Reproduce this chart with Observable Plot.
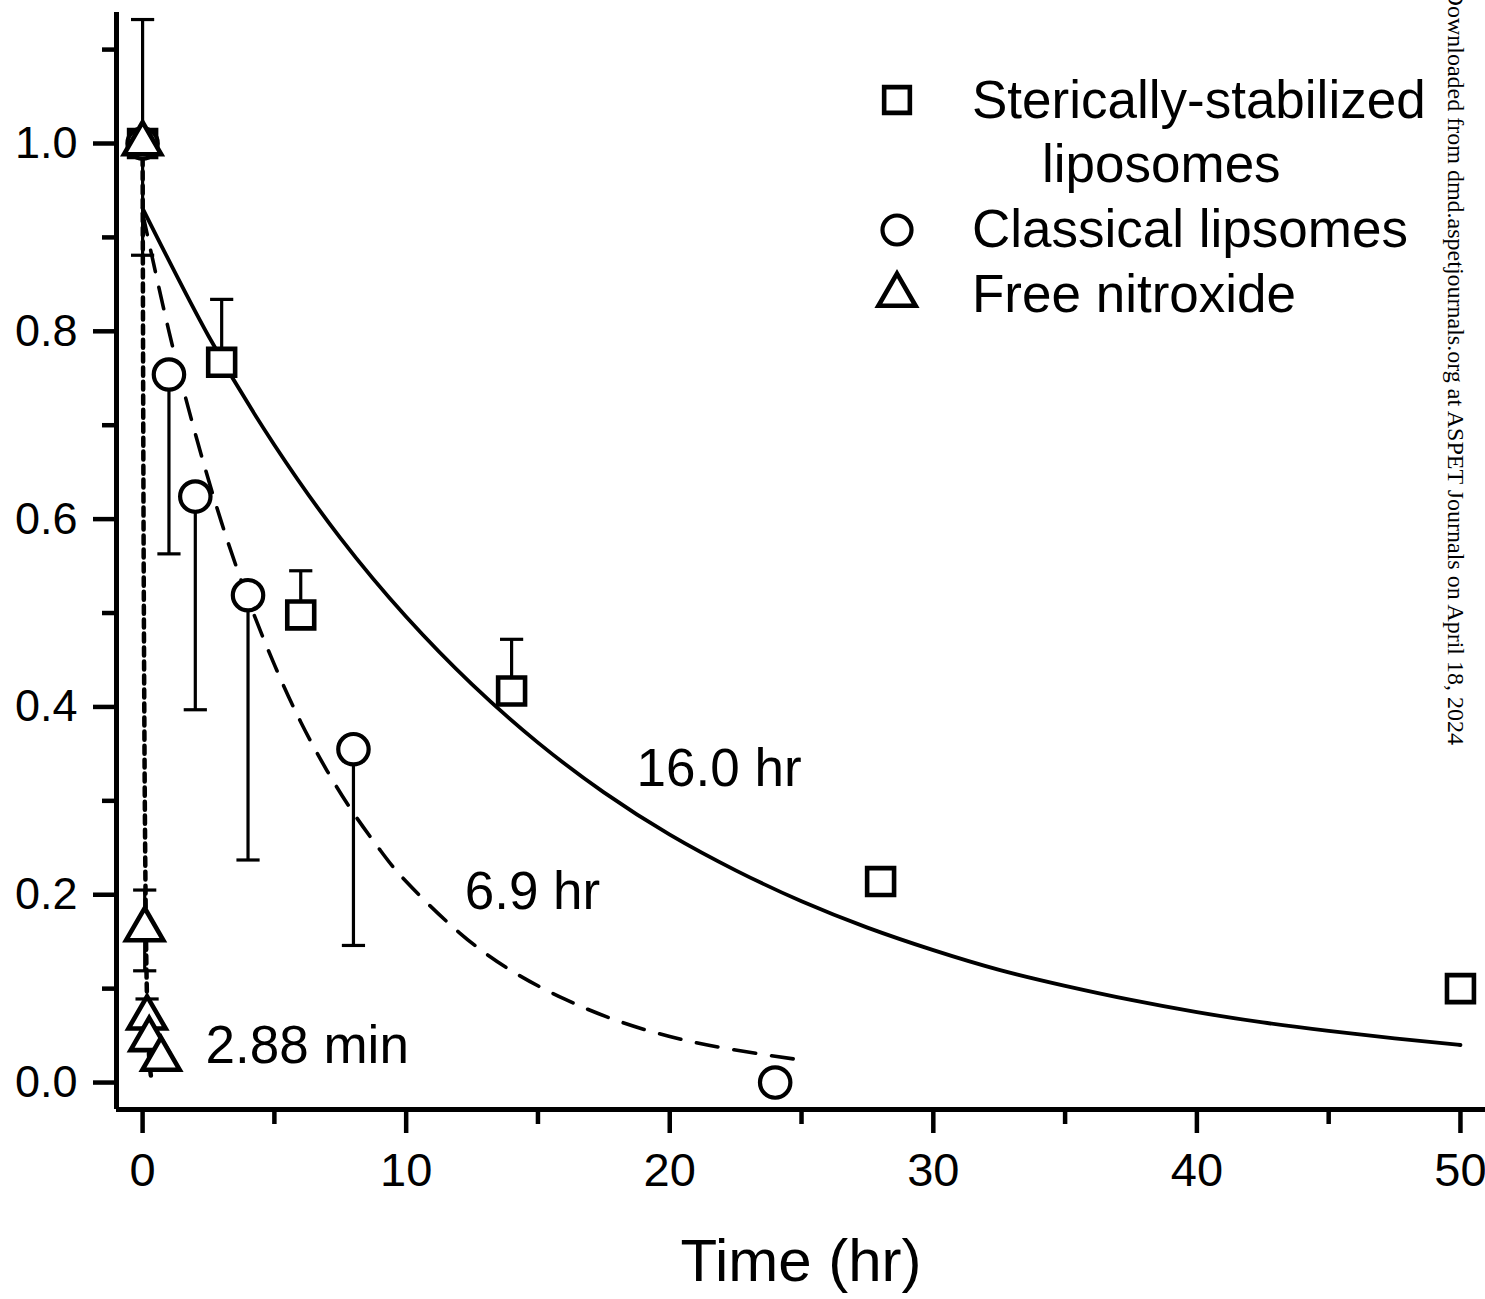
<!DOCTYPE html>
<html>
<head>
<meta charset="utf-8">
<script src="https://cdn.jsdelivr.net/npm/d3@7"></script>
<script src="https://cdn.jsdelivr.net/npm/@observablehq/plot@0.6"></script>
<style>
  body { margin: 0; background: #fff; }
  #chart { position: relative; width: 1485px; height: 1299px; }
</style>
</head>
<body>
<div id="chart"></div>
<script>
// ---- Data ----
const seriesNames = ["Sterically-stabilized liposomes", "Classical lipsomes", "Free nitroxide"];

const sterTime   = [0, 3, 6, 14, 28, 50];
const sterValue  = [1.0, 0.767, 0.498, 0.417, 0.214, 0.100];
const sterErrUp  = [0.132, 0.067, 0.047, 0.055, 0, 0];

const clasTime    = [0, 1, 2, 4, 8, 24];
const clasValue   = [1.0, 0.754, 0.624, 0.519, 0.355, 0.0];
const clasErrDown = [0.119, 0.191, 0.227, 0.282, 0.209, 0];

const freeTime    = [0, 0.08, 0.17, 0.25, 0.7];
const freeValue   = [1.0, 0.163, 0.069, 0.046, 0.025];
const freeErrUp   = [0, 0.042, 0.02, 0, 0];
const freeErrDown = [0, 0.044, 0, 0, 0];

// fitted curves
const sterFitTime  = [0, 2.5, 5, 7.5, 10, 12.5, 15, 17.5, 20, 22.5, 25, 27.5, 30, 32.5, 35, 37.5, 40, 42.5, 45, 47.5, 50];
const sterFitValue = [0.931, 0.795, 0.679, 0.580, 0.496, 0.424, 0.362, 0.309, 0.264, 0.226, 0.193, 0.165, 0.141, 0.120, 0.103, 0.088, 0.075, 0.064, 0.055, 0.047, 0.040];

const clasFitTime  = [0, 1, 2, 3, 4, 5, 6, 7, 8, 9, 10, 12, 14, 16, 18, 20, 22, 24, 25];
const clasFitValue = [0.926, 0.800, 0.691, 0.596, 0.515, 0.445, 0.384, 0.332, 0.287, 0.248, 0.214, 0.160, 0.119, 0.089, 0.066, 0.049, 0.037, 0.028, 0.024];

const freeFitTime  = [0, 0.025, 0.05, 0.075, 0.1, 0.125, 0.15, 0.2, 0.25, 0.32];
const freeFitValue = [1.0, 0.70, 0.49, 0.34, 0.24, 0.165, 0.115, 0.056, 0.027, 0.006];

const annoLabels = ["16.0 hr", "6.9 hr", "2.88 min"];
const annoTime   = [18.74, 12.22, 2.39];
const annoValue  = [0.316, 0.185, 0.021];

const xMajorTicks = [0, 10, 20, 30, 40, 50];
const xMinorTicks = [5, 15, 25, 35, 45];
const yMajorTicks = [0, 0.2, 0.4, 0.6, 0.8, 1.0];
const yMinorTicks = [0.1, 0.3, 0.5, 0.7, 0.9, 1.1];

const xLabel = "Time (hr)";
const watermark = "Downloaded from dmd.aspetjournals.org at ASPET Journals on April 18, 2024";

// ---- Tables ----
const ster = sterTime.map((t, i) => ({t, v: sterValue[i], up: sterErrUp[i], down: 0}));
const clas = clasTime.map((t, i) => ({t, v: clasValue[i], up: 0, down: clasErrDown[i]}));
const free = freeTime.map((t, i) => ({t, v: freeValue[i], up: freeErrUp[i], down: freeErrDown[i]}));
const sterFit = sterFitTime.map((t, i) => ({t, v: sterFitValue[i]}));
const clasFit = clasFitTime.map((t, i) => ({t, v: clasFitValue[i]}));
const freeFit = freeFitTime.map((t, i) => ({t, v: freeFitValue[i]}));
const annos = annoLabels.map((label, i) => ({label, t: annoTime[i], v: annoValue[i]}));

function bars(tbl) {
  const out = [];
  tbl.forEach(d => {
    if (d.up > 0) out.push({t: d.t, from: d.v, to: d.v + d.up});
    if (d.down > 0) out.push({t: d.t, from: d.v, to: d.v - d.down});
  });
  return out;
}
const errBars = [...bars(ster), ...bars(clas), ...bars(free)];

const xDomain = [-0.99, 50.95];
const yDomain = [-0.0287, 1.1395];
const capHalf = 0.44; // hr

const FONT = "'Liberation Sans', Arial, Helvetica, sans-serif";

const chart = Plot.plot({
  width: 1485,
  height: 1299,
  marginLeft: 116,
  marginRight: 0,
  marginTop: 12,
  marginBottom: 190,
  style: {fontFamily: FONT, fontSize: "45px", color: "black", background: "white"},
  x: {domain: xDomain, label: null},
  y: {domain: yDomain, label: null},
  marks: [
    // ticks
    Plot.axisY({ticks: yMajorTicks, tickSize: 23, tickPadding: 16, tickFormat: d3.format(".1f"), fontSize: 45, label: null}),
    Plot.axisY({ticks: yMinorTicks, tickSize: 14, tickFormat: () => "", label: null}),
    Plot.axisX({ticks: xMajorTicks, tickSize: 24, tickPadding: 19, tickFormat: d => String(d), fontSize: 47, label: null}),
    Plot.axisX({ticks: xMinorTicks, tickSize: 15, tickFormat: () => "", label: null}),
    // axis lines
    Plot.ruleX([xDomain[0]], {stroke: "black", strokeWidth: 5}),
    Plot.ruleY([yDomain[0]], {stroke: "black", strokeWidth: 5}),
    // fitted curves
    Plot.line(sterFit, {x: "t", y: "v", stroke: "black", strokeWidth: 3.8, curve: "natural"}),
    Plot.line(clasFit, {x: "t", y: "v", stroke: "black", strokeWidth: 3.6, strokeDasharray: "22,16", curve: "natural"}),
    Plot.line(freeFit, {x: "t", y: "v", stroke: "black", strokeWidth: 4.5, strokeDasharray: "8,6", curve: "monotone-x"}),
    // error bars
    Plot.ruleX(errBars, {x: "t", y1: "from", y2: "to", stroke: "black", strokeWidth: 3.2}),
    Plot.link(errBars, {x1: d => d.t - capHalf, x2: d => d.t + capHalf, y1: "to", y2: "to", stroke: "black", strokeWidth: 3.2}),
    // markers
    Plot.dot(ster, {x: "t", y: "v", symbol: "square", r: 15.2, fill: "white", stroke: "black", strokeWidth: 4.6}),
    Plot.dot(clas, {x: "t", y: "v", symbol: "circle", r: 15.2, fill: "white", stroke: "black", strokeWidth: 4.2}),
    Plot.dot(free, {x: "t", y: "v", symbol: "triangle", r: 13.8, fill: "white", stroke: "black", strokeWidth: 4.6}),
    // annotations
    Plot.text(annos, {x: "t", y: "v", text: "label", textAnchor: "start", lineAnchor: "bottom", fontSize: 53, fill: "black"}),
    // x label
    Plot.text([xLabel], {frameAnchor: "bottom", dy: 171, text: d => d, lineAnchor: "bottom", fontSize: 60, fill: "black"})
  ]
});

document.getElementById("chart").appendChild(chart);

const svg = d3.select(chart);
// thicker tick strokes like the reference
svg.selectAll('g[aria-label$="-axis tick"]').attr("stroke-width", 4.5);

// ---- Legend (drawn inside the svg) ----
const legend = svg.append("g")
  .attr("font-family", FONT).attr("font-size", 53).attr("fill", "black")
  .attr("text-anchor", "start");
const legendRows = [
  {symbol: d3.symbolSquare, r: 14.5, sw: 4.6, cy: 100, lines: [{text: "Sterically-stabilized", x: 972, y: 118}, {text: "liposomes", x: 1042, y: 182}]},
  {symbol: d3.symbolCircle, r: 14.5, sw: 4.2, cy: 230, lines: [{text: "Classical lipsomes", x: 972, y: 247}]},
  {symbol: d3.symbolTriangle, r: 13.8, sw: 4.6, cy: 295, lines: [{text: "Free nitroxide", x: 972, y: 312}]}
];
legendRows.forEach(row => {
  legend.append("path")
    .attr("d", d3.symbol(row.symbol, row.r * row.r * Math.PI)())
    .attr("transform", `translate(897,${row.cy})`)
    .attr("fill", "white").attr("stroke", "black").attr("stroke-width", row.sw);
  row.lines.forEach(l => legend.append("text")
    .attr("x", l.x).attr("y", l.y).attr("text-anchor", "start").text(l.text));
});

// ---- Side watermark ----
svg.append("text")
  .attr("transform", "translate(1448,745) rotate(90)")
  .attr("text-anchor", "end")
  .attr("font-family", "'Liberation Serif', 'Times New Roman', serif")
  .attr("font-size", 24)
  .attr("fill", "black")
  .text(watermark);
</script>
</body>
</html>
